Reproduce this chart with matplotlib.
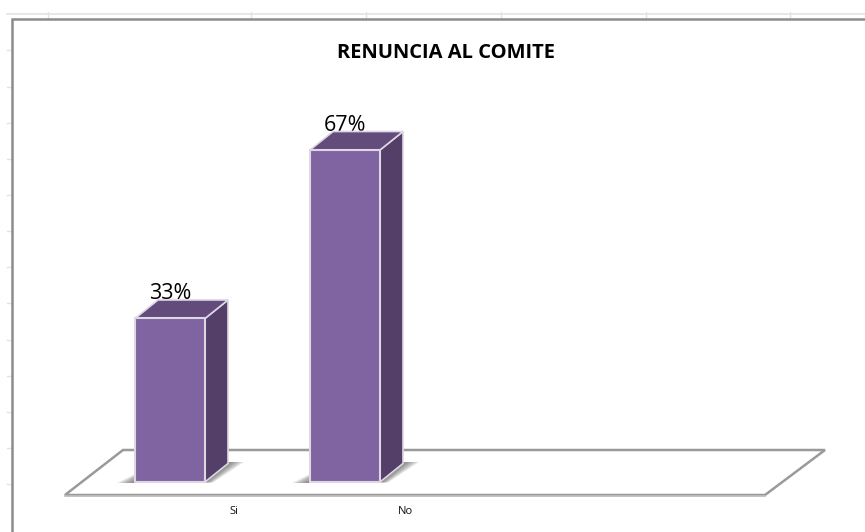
import matplotlib
matplotlib.use('Agg')
import matplotlib.pyplot as plt
from matplotlib.patches import Polygon

# Data
categories = ['Si', 'No']
values = [33, 67]
title = 'RENUNCIA AL COMITE'

# Worksheet gridline remains behind the chart (pixels)
sheet_cols = [48, 251, 366, 501, 646, 790]
sheet_rows = [50, 87, 123, 159, 195, 231, 267, 303, 340, 376, 412, 448, 484]

W, H = 865, 532
PX_X = 175.0     # pixels per category
PX_Y = 4.955     # pixels per percent
X0, Y0 = 170, 482  # pixel position of first category at 0%
BAR_W = 70 / PX_X
DX = 23 / PX_X   # 3d depth
DY = 18.5 / PX_Y

FRONT = '#8064A2'
TOP = '#634C7C'
SIDE = '#543F69'
EDGE = '#DDD7E3'

fig = plt.figure(figsize=(W / 100, H / 100), dpi=100)

# Overlay axes in pixels for the decoration
bg = fig.add_axes([0, 0, 1, 1])
bg.set_xlim(0, W)
bg.set_ylim(H, 0)
bg.axis('off')

bg.plot([7, W], [14, 14], color='#E3E3E3', lw=1.2, zorder=1)
for c in sheet_cols:
    bg.plot([c, c], [12, 19], color='#E3E3E3', lw=1, zorder=1)
for r in sheet_rows:
    bg.plot([7, 12], [r, r], color='#E3E3E3', lw=1, zorder=1)
# Chart frame
bg.plot([12, 12, W], [H, 19, 19], color='#8C8C8C', lw=1.8, zorder=2, solid_joinstyle='miter')

# Floor
floor = [(65, 495), (123, 450), (825, 450), (765, 495)]
bg.add_patch(Polygon(floor, closed=True, fc='white', ec='#9A9A9A', lw=1.8, zorder=3))
bg.plot([65, 765], [496, 496], color='#BDBDBD', lw=1.2, zorder=3)

# Chart axes, data coordinates
ax = fig.add_axes([0, 0, 1, 1])
ax.patch.set_alpha(0)
ax.set_xlim(-X0 / PX_X, (W - X0) / PX_X)
ax.set_ylim(-(H - Y0) / PX_Y, Y0 / PX_Y)
ax.axis('off')

hw = BAR_W / 2
for i, (cat, val) in enumerate(zip(categories, values)):
    # soft floor shadow, layered so it fades away from the bar
    for k in range(7):
        reach = (k + 1) / 7
        ax.add_patch(Polygon([(i - hw - 18 * reach / PX_X, -0.2),
                              (i - hw, -0.2),
                              (i - hw, 8 * reach / PX_Y)],
                             closed=True, fc='#444444', ec='none', alpha=0.13, zorder=4))
        ax.add_patch(Polygon([(i + hw, -0.1),
                              (i + hw + DX, DY + 1.5 / PX_Y),
                              (i + hw + DX + 16 * reach / PX_X, DY + 1.5 / PX_Y),
                              (i + hw + 8 * reach / PX_X, -0.1)],
                             closed=True, fc='#444444', ec='none', alpha=0.13, zorder=4))
    # data label sits behind the top face of the bar
    ax.text(i, val + 24.5 / PX_Y, f'{val}%', ha='center', va='center',
            fontsize=15.5, family='Open Sans', color='black', zorder=4)
    ax.bar(i, val, width=BAR_W, color=FRONT, edgecolor=EDGE, linewidth=1.5, zorder=6)
    ax.add_patch(Polygon([(i + hw, 0), (i + hw + DX, DY), (i + hw + DX, val + DY), (i + hw, val)],
                         closed=True, fc=SIDE, ec=EDGE, lw=1.2, zorder=5))
    ax.add_patch(Polygon([(i - hw, val), (i - hw + DX, val + DY), (i + hw + DX, val + DY), (i + hw, val)],
                         closed=True, fc=TOP, ec=EDGE, lw=1.2, zorder=5))
    ax.text(i * 171 / PX_X + 64 / PX_X, -29.5 / PX_Y, cat, ha='center', va='center',
            fontsize=8, family='Open Sans', color='#111111', zorder=7)

fig.text(445.5 / W, 1 - 53 / H, title, ha='center', va='center',
         fontsize=14.5, fontweight='bold', family='Open Sans', color='black')

fig.savefig('out.png', dpi=100)
